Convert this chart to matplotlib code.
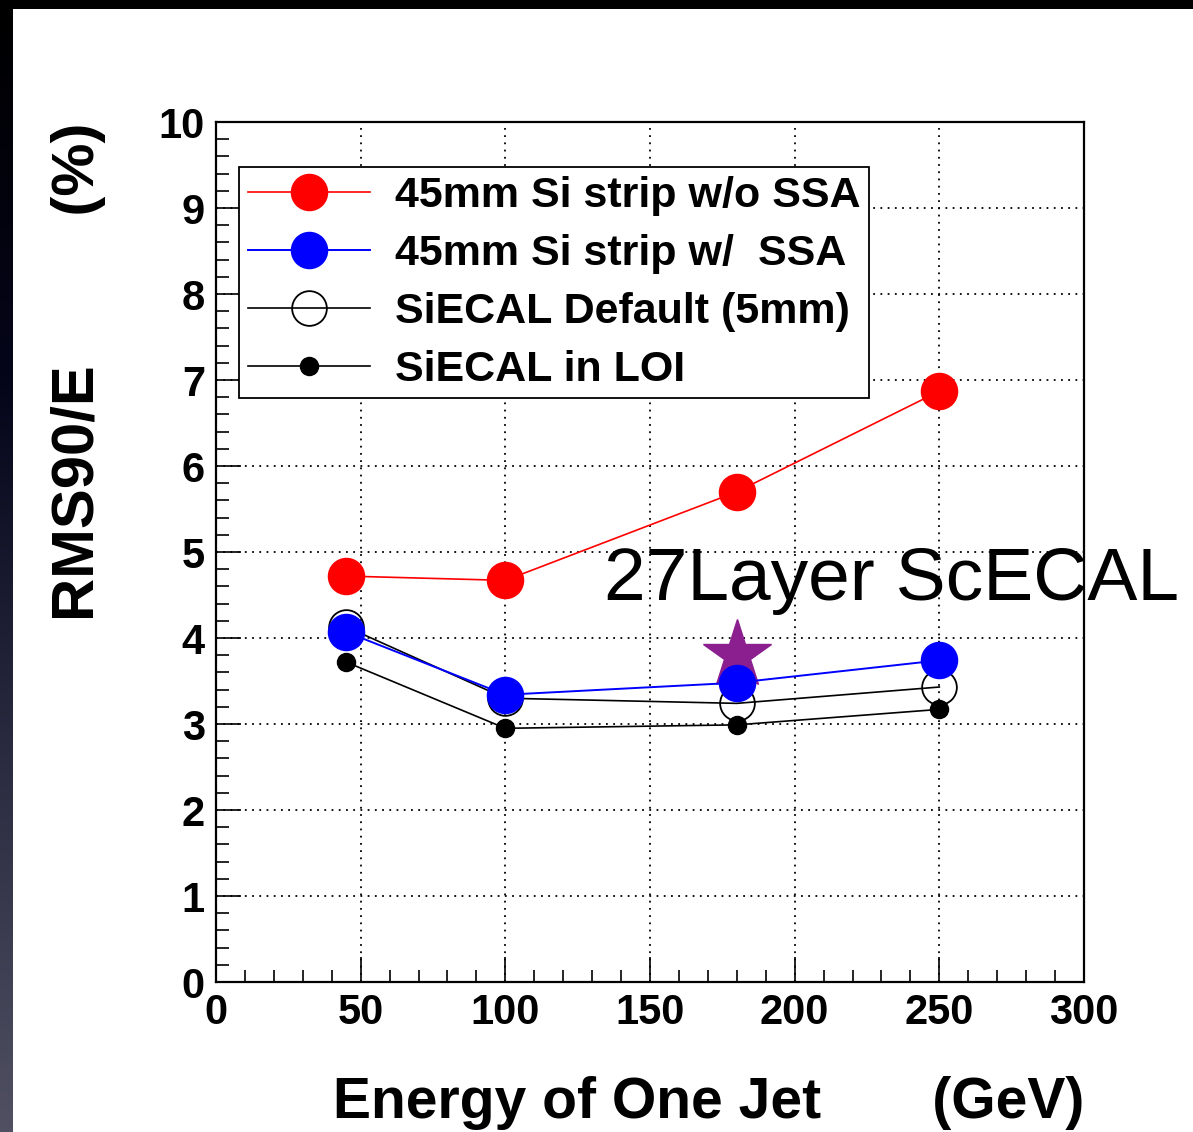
import numpy as np
import matplotlib
matplotlib.use("Agg")
import matplotlib.pyplot as plt
from matplotlib.colors import LinearSegmentedColormap
from matplotlib.patches import Rectangle
from matplotlib.ticker import MultipleLocator

plt.rcParams["font.family"] = ["Liberation Sans", "DejaVu Sans"]

# data
energy = [45, 100, 180, 250]
si_strip_no_ssa = [4.72, 4.67, 5.70, 6.87]
si_strip_ssa = [4.07, 3.34, 3.48, 3.74]
siecal_default = [4.13, 3.30, 3.24, 3.43]
siecal_loi = [3.72, 2.95, 2.99, 3.17]
scecal_energy = [180]
scecal_27layer = [3.80]

labels = [
    "45mm Si strip w/o SSA",
    "45mm Si strip w/  SSA",
    "SiECAL Default (5mm)",
    "SiECAL in LOI",
]

W, H = 1193, 1132
fig = plt.figure(figsize=(W / 100, H / 100), dpi=100)
fig.patch.set_facecolor("white")

# dark slide frame: black band at the top, gradient strip on the left
fig.patches.append(Rectangle((0, 1 - 9 / H), 1, 9 / H, transform=fig.transFigure,
                             facecolor="black", edgecolor="none", zorder=0))
strip = fig.add_axes([0, 0, 13 / W, 1])
cmap = LinearSegmentedColormap.from_list(
    "frame", ["#000000", "#05051a", "#2a2a40", "#505062"])
strip.imshow(np.linspace(0, 1, 256).reshape(-1, 1), aspect="auto", cmap=cmap)
strip.set_axis_off()

ax = fig.add_axes([216 / W, 150 / H, 868 / W, 860 / H])

ax.plot(energy, siecal_loi, color="black", lw=1.2, marker="o", ms=13,
        mfc="black", mec="black", zorder=3, label=labels[3])
ax.plot(energy, siecal_default, color="black", lw=1.2, marker="o", ms=25,
        mfc="none", mec="black", mew=1.3, zorder=4, label=labels[2])
ax.plot(scecal_energy, scecal_27layer, ls="none", marker="*", ms=52,
        color="#8c1f8f", zorder=5)
ax.plot(energy, si_strip_ssa, color="blue", lw=1.4, marker="o", ms=26,
        mfc="blue", mec="blue", zorder=6, label=labels[1])
ax.plot(energy, si_strip_no_ssa, color="red", lw=1.2, marker="o", ms=26,
        mfc="red", mec="red", zorder=7, label=labels[0])

ax.set_xlim(0, 300)
ax.set_ylim(0, 10)
ax.xaxis.set_major_locator(MultipleLocator(50))
ax.xaxis.set_minor_locator(MultipleLocator(10))
ax.yaxis.set_major_locator(MultipleLocator(1))
ax.yaxis.set_minor_locator(MultipleLocator(0.2))
ax.tick_params(which="both", direction="in", width=1.2, top=False, right=False)
ax.tick_params(which="major", length=18, pad=8, labelsize=30)
ax.tick_params(which="minor", length=9)
for lab in ax.get_xticklabels() + ax.get_yticklabels():
    lab.set_fontweight("bold")
for sp in ax.spines.values():
    sp.set_linewidth(1.6)
ax.grid(True, which="major", color="black", ls=(0, (1, 3)), lw=1.3)

ax.set_xlabel("Energy of One Jet       (GeV)", fontsize=41, fontweight="bold",
              loc="right", labelpad=31)
ax.set_ylabel("RMS90/E         (%)", fontsize=43, fontweight="bold",
              loc="top", labelpad=38)

handles, labs = ax.get_legend_handles_labels()
order = [labs.index(l) for l in labels]
leg = ax.legend([handles[i] for i in order], [labs[i] for i in order],
                loc="upper left", bbox_to_anchor=(239 / W, 1 - 167 / H),
                bbox_transform=fig.transFigure, borderaxespad=0,
                prop={"size": 31, "weight": "bold"}, numpoints=1,
                handlelength=2.85, handletextpad=0.58, labelspacing=0.42,
                borderpad=0.2, fancybox=False, framealpha=1,
                edgecolor="black")
leg.get_frame().set_linewidth(1.3)
leg.set_zorder(10)

fig.text(604 / W, 1 - 600 / H, "27Layer ScECAL", fontsize=54,
         ha="left", va="baseline", color="black")

fig.savefig("out.png", dpi=100)
